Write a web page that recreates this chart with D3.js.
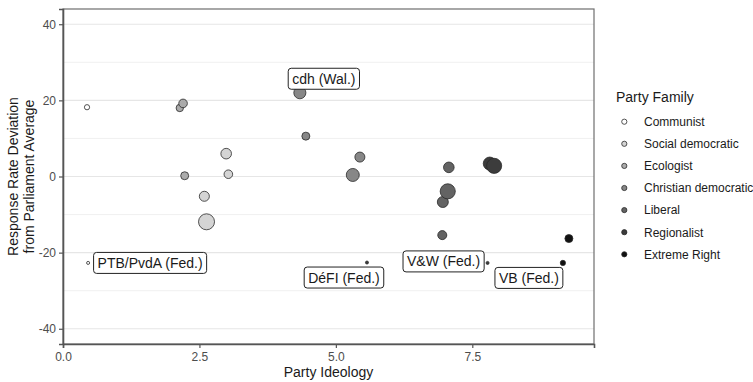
<!DOCTYPE html>
<html>
<head>
<meta charset="utf-8">
<script src="https://cdn.jsdelivr.net/npm/d3@7"></script>
<style>
body { margin: 0; background: #fff; }
svg { font-family: "Liberation Sans", Arial, sans-serif; }
</style>
</head>
<body>
<script>
// data
var families = ["Communist", "Social democratic", "Ecologist", "Christian democratic", "Liberal", "Regionalist", "Extreme Right"];
var familyFill = ["#ffffff", "#d4d4d4", "#ababab", "#878787", "#636363", "#3c3c3c", "#111111"];

var partyFamily = ["Communist", "Communist",
    "Social democratic", "Social democratic", "Social democratic", "Social democratic",
    "Ecologist", "Ecologist", "Ecologist",
    "Christian democratic", "Christian democratic", "Christian democratic", "Christian democratic",
    "Liberal", "Liberal", "Liberal", "Liberal",
    "Regionalist", "Regionalist", "Regionalist", "Regionalist",
    "Extreme Right", "Extreme Right"];
var ideology = [0.44, 0.46,
    2.99, 3.03, 2.59, 2.63,
    2.20, 2.14, 2.23,
    4.34, 4.45, 5.44, 5.31,
    7.07, 7.05, 6.96, 6.95,
    7.82, 7.90, 5.57, 7.78,
    9.27, 9.16];
var deviation = [18.2, -22.7,
    6.0, 0.6, -5.2, -11.9,
    19.2, 18.0, 0.2,
    22.0, 10.6, 5.1, 0.4,
    2.4, -3.9, -6.7, -15.4,
    3.4, 2.8, -22.6, -22.7,
    -16.3, -22.7];
var seats = [3, 1,
    12.3, 8.1, 11, 28,
    8.1, 6, 7,
    16, 7, 11, 18.5,
    12.3, 25, 13.2, 8.9,
    18.5, 25, 1, 1,
    7, 3];
var partyLabel = ["", "PTB/PvdA (Fed.)",
    "", "", "", "",
    "", "", "",
    "cdh (Wal.)", "", "", "",
    "", "", "", "",
    "", "", "DéFI (Fed.)", "V&W (Fed.)",
    "", "VB (Fed.)"];

var yTicks = [-40, -20, 0, 20, 40];
var yMinor = [-30, -10, 10, 30];
var xTicks = [0, 2.5, 5, 7.5];

// label nudges (px) relative to point
var labelNudge = {
    "PTB/PvdA (Fed.)": [62, 0],
    "cdh (Wal.)": [24, -14],
    "DéFI (Fed.)": [-23, 15],
    "V&W (Fed.)": [-44, -1.5],
    "VB (Fed.)": [-34, 15]
};

var margin = {top: 9, right: 159, bottom: 38, left: 63},
    width = 753 - margin.left - margin.right,
    height = 382 - margin.top - margin.bottom;

var svg = d3.select("body").append("svg")
    .attr("width", 753)
    .attr("height", 382);

var g = svg.append("g")
    .attr("transform", "translate(" + margin.left + "," + margin.top + ")");

var x = d3.scaleLinear().domain([0, 9.73]).range([0, width]);
var y = d3.scaleLinear().domain([-44, 44]).range([height, 0]);
var r = d3.scaleSqrt().domain([0, 28]).range([0, 8]);
var fill = d3.scaleOrdinal().domain(families).range(familyFill);

// grid
g.selectAll("line.minor").data(yMinor).enter().append("line")
    .attr("x1", 0).attr("x2", width)
    .attr("y1", function(d){ return y(d); }).attr("y2", function(d){ return y(d); })
    .style("stroke", "#f0f0f0").style("stroke-width", 1);
g.selectAll("line.major").data(yTicks).enter().append("line")
    .attr("x1", 0).attr("x2", width)
    .attr("y1", function(d){ return y(d); }).attr("y2", function(d){ return y(d); })
    .style("stroke", "#e6e6e6").style("stroke-width", 1.2);

// panel border
g.append("rect")
    .attr("x", 0).attr("y", 0).attr("width", width).attr("height", height)
    .style("fill", "none").style("stroke", "#6e6e6e").style("stroke-width", 1.2);

// axes
var yAxis = g.append("g")
    .call(d3.axisLeft(y).tickValues(yTicks).tickSize(4).tickPadding(3)
        .tickFormat(function(d){ return String(d); }));
var xAxis = g.append("g")
    .attr("transform", "translate(0," + height + ")")
    .call(d3.axisBottom(x).tickValues(xTicks).tickSize(4).tickPadding(4).tickFormat(d3.format(".1f")));
[xAxis, yAxis].forEach(function(a){
    a.select("path.domain").style("stroke", "#555").style("stroke-width", 1.6);
    a.selectAll(".tick line").style("stroke", "#555").style("stroke-width", 1.2);
    a.selectAll(".tick text").style("fill", "#4d4d4d").style("font-size", "12px")
        .style("font-family", "Liberation Sans, Arial, sans-serif");
});

// points
var data = ideology.map(function(d, i){
    return {x: d, y: deviation[i], size: seats[i], family: partyFamily[i], label: partyLabel[i]};
});
data.sort(function(a, b){ return a.size - b.size; });

g.selectAll("circle.pt").data(data).enter().append("circle")
    .attr("class", "pt")
    .attr("cx", function(d){ return x(d.x); })
    .attr("cy", function(d){ return y(d.y); })
    .attr("r", function(d){ return r(d.size); })
    .style("fill", function(d){ return fill(d.family); })
    .style("stroke", "#2a2a2a")
    .style("stroke-width", 0.8);

// labels
var lab = g.selectAll("g.lab").data(data.filter(function(d){ return d.label !== ""; }))
    .enter().append("g")
    .attr("transform", function(d){
        var n = labelNudge[d.label];
        return "translate(" + (x(d.x) + n[0]) + "," + (y(d.y) + n[1]) + ")";
    });
lab.append("text")
    .text(function(d){ return d.label; })
    .attr("text-anchor", "middle")
    .attr("dy", "0.36em")
    .style("font-size", "14px")
    .style("fill", "#1a1a1a");
lab.each(function(){
    var t = d3.select(this).select("text").node().getBBox();
    d3.select(this).insert("rect", "text")
        .attr("x", t.x - 4).attr("y", -10.5)
        .attr("width", t.width + 8).attr("height", 21)
        .attr("rx", 3)
        .style("fill", "#fff").style("stroke", "#222").style("stroke-width", 1);
});

// axis titles
svg.append("text")
    .attr("x", margin.left + width / 2).attr("y", 377)
    .attr("text-anchor", "middle")
    .style("font-size", "14px").style("fill", "#1a1a1a")
    .text("Party Ideology");
var yt = svg.append("text")
    .attr("transform", "translate(0," + (margin.top + height / 2) + ") rotate(-90)")
    .attr("text-anchor", "middle")
    .style("font-size", "14px").style("fill", "#1a1a1a");
yt.append("tspan").attr("x", 0).attr("y", 18).text("Response Rate Deviation");
yt.append("tspan").attr("x", 0).attr("y", 34).text("from Parliament Average");

// legend
var legend = svg.append("g").attr("transform", "translate(616,0)");
legend.append("text")
    .attr("x", 0).attr("y", 102)
    .style("font-size", "14px").style("fill", "#1a1a1a")
    .text("Party Family");
var item = legend.selectAll("g.item").data(families).enter().append("g")
    .attr("transform", function(d, i){ return "translate(0," + (121.7 + i * 22.1) + ")"; });
item.append("circle")
    .attr("cx", 8.3).attr("cy", 0).attr("r", 2.6)
    .style("fill", function(d){ return fill(d); })
    .style("stroke", "#2a2a2a").style("stroke-width", 0.8);
item.append("text")
    .attr("x", 28).attr("y", 0).attr("dy", "0.36em")
    .style("font-size", "12px").style("fill", "#1a1a1a")
    .text(function(d){ return d; });
</script>
</body>
</html>
